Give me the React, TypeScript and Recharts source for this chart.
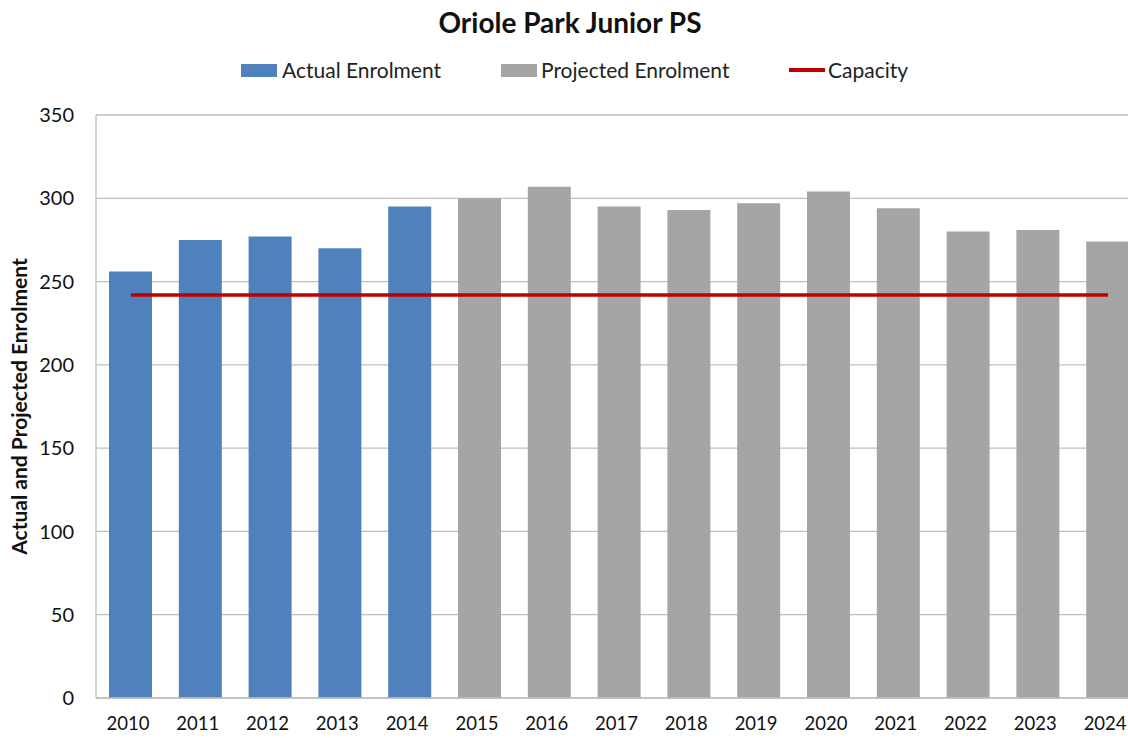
import React from "react";
import {
  ComposedChart,
  Bar,
  Line,
  XAxis,
  YAxis,
  CartesianGrid,
  Legend,
} from "recharts";

const years = [
  "2010", "2011", "2012", "2013", "2014", "2015", "2016", "2017",
  "2018", "2019", "2020", "2021", "2022", "2023", "2024",
];
const actualEnrolment = [256, 275, 277, 270, 295, null, null, null, null, null, null, null, null, null, null];
const projectedEnrolment = [null, null, null, null, null, 300, 307, 295, 293, 297, 304, 294, 280, 281, 274];
const capacity = [242, 242, 242, 242, 242, 242, 242, 242, 242, 242, 242, 242, 242, 242, 242];
const yTicks = [0, 50, 100, 150, 200, 250, 300, 350];

const data = years.map((year, i) => ({
  year,
  actual: actualEnrolment[i],
  projected: projectedEnrolment[i],
  capacity: capacity[i],
}));

const FONT = "Lato, 'Open Sans', sans-serif";
const BLUE = "#4f81bd";
const GREY = "#a5a5a5";
const RED = "#c00000";

// legend drawn by hand so spacing follows the Excel original
const renderLegend = () => (
  <div
    style={{
      position: "relative",
      height: 24,
      fontFamily: FONT,
      fontSize: 21,
      lineHeight: "24px",
      color: "#222",
    }}
  >
    <div style={{ position: "absolute", left: 241, top: 0, display: "flex", alignItems: "center" }}>
      <span style={{ width: 36, height: 13, background: BLUE, marginRight: 5 }} />
      Actual Enrolment
    </div>
    <div style={{ position: "absolute", left: 501, top: 0, display: "flex", alignItems: "center" }}>
      <span style={{ width: 36, height: 13, background: GREY, marginRight: 4 }} />
      Projected Enrolment
    </div>
    <div style={{ position: "absolute", left: 789, top: 0, display: "flex", alignItems: "center" }}>
      <span style={{ width: 36, height: 4, background: RED, marginRight: 3 }} />
      Capacity
    </div>
  </div>
);

export default function App() {
  return (
    <div
      style={{
        position: "absolute",
        left: 0,
        top: 0,
        width: 1128,
        height: 738,
        overflow: "hidden",
        background: "#fff",
        fontFamily: FONT,
      }}
    >
      <div
        style={{
          position: "absolute",
          top: 6,
          left: 0,
          width: 1140,
          textAlign: "center",
          fontSize: 28,
          lineHeight: "32px",
          fontWeight: 700,
          color: "#111",
        }}
      >
        Oriole Park Junior PS
      </div>
      <ComposedChart
        width={1150}
        height={738}
        data={data}
        // the legend's 24px is added to the top offset by recharts
        margin={{ top: 91, right: 7, bottom: 10, left: 0 }}
        style={{ position: "absolute", left: 0, top: 0 }}
      >
        <CartesianGrid stroke="#bfbfbf" strokeWidth={1.3} vertical={false} />
        <XAxis
          dataKey="year"
          axisLine={{ stroke: "#bfbfbf", strokeWidth: 1.3 }}
          tickLine={false}
          tickMargin={13}
          tick={{ fill: "#111", fontSize: 18.5, fontFamily: FONT, dx: -3 }}
          interval={0}
        />
        <YAxis
          width={96}
          domain={[0, 350]}
          ticks={yTicks}
          axisLine={{ stroke: "#bfbfbf", strokeWidth: 1.3 }}
          tickLine={false}
          tickSize={0}
          tickMargin={22}
          tick={{ fill: "#111", fontSize: 20, fontFamily: FONT }}
          label={{
            value: "Actual and Projected Enrolment",
            angle: -90,
            position: "insideLeft",
            offset: 20,
            style: {
              textAnchor: "middle",
              fontSize: 21,
              fontWeight: 700,
              fill: "#111",
              fontFamily: FONT,
            },
          }}
        />
        <Legend
          verticalAlign="top"
          content={renderLegend}
          wrapperStyle={{ position: "absolute", top: 58, left: 0, width: 1128, height: 24 }}
        />
        <Bar dataKey="actual" name="Actual Enrolment" stackId="e" fill={BLUE} barSize={43} isAnimationActive={false} />
        <Bar dataKey="projected" name="Projected Enrolment" stackId="e" fill={GREY} barSize={43} isAnimationActive={false} />
        <Line
          dataKey="capacity"
          name="Capacity"
          stroke={RED}
          strokeWidth={3.5}
          dot={false}
          activeDot={false}
          isAnimationActive={false}
        />
      </ComposedChart>
    </div>
  );
}
